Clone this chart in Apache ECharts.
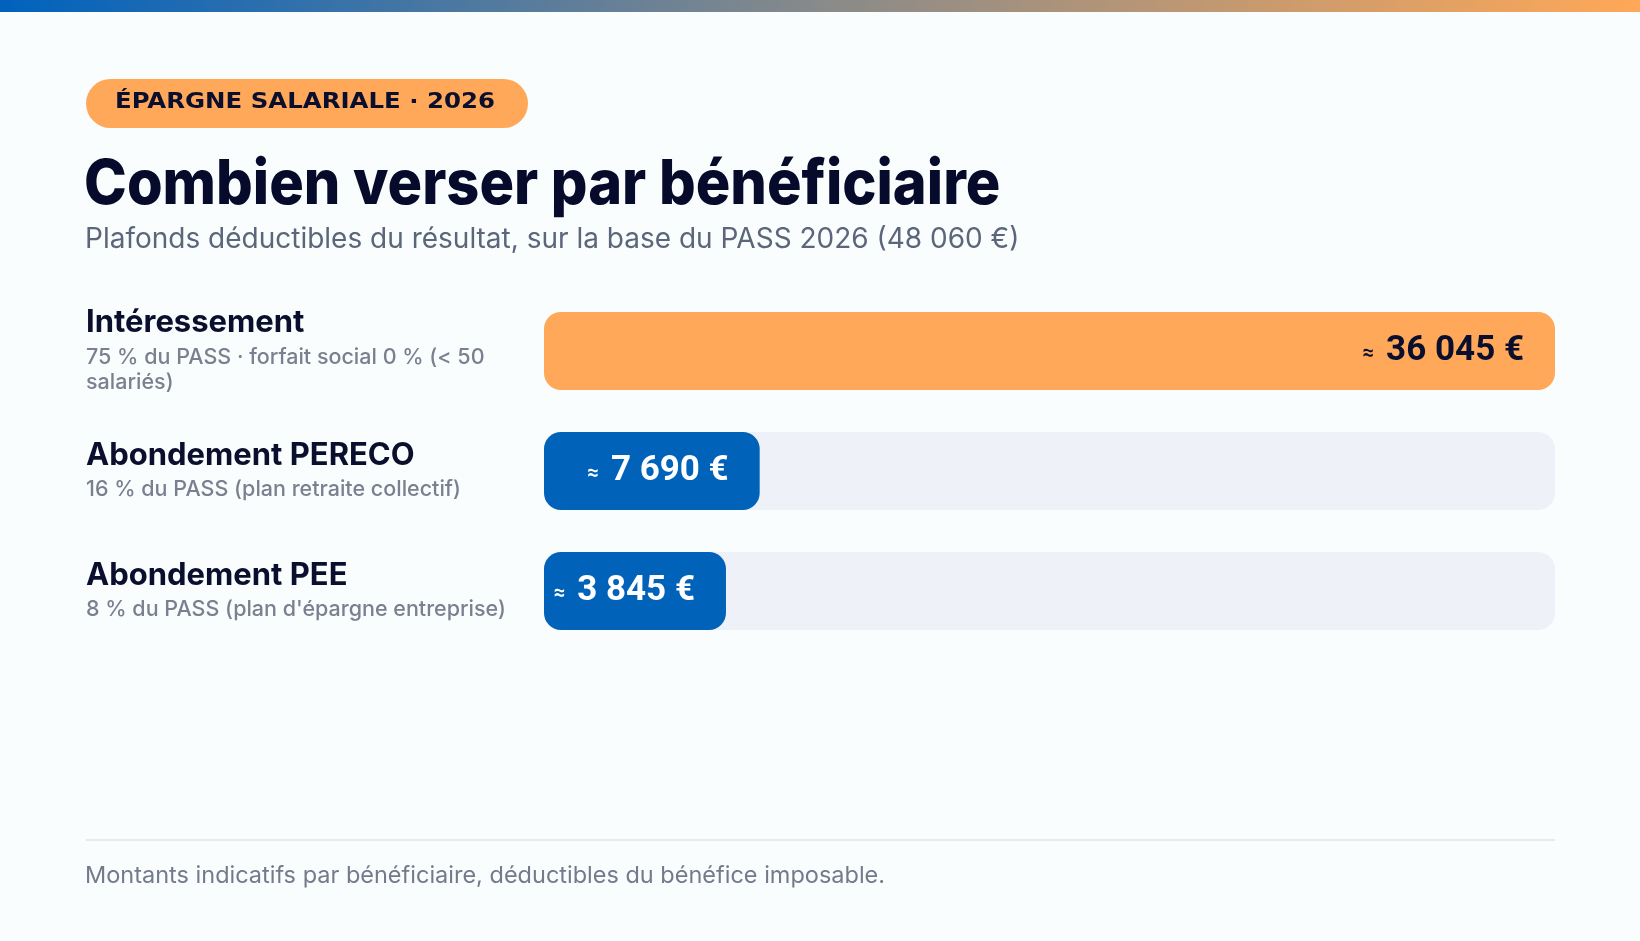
<!DOCTYPE html>
<html><head><meta charset="utf-8">
<script src="https://cdn.jsdelivr.net/npm/echarts@6/dist/echarts.min.js"></script>
<style>html,body{margin:0;padding:0;background:#FAFDFD;}#c{width:1640px;height:941px;}</style>
</head><body><div id="c"></div>
<script>
const categories = ['Intéressement', 'Abondement PERECO', 'Abondement PEE'];
const subtitles = ['75 % du PASS · forfait social 0 % (< 50\nsalariés)', '16 % du PASS (plan retraite collectif)', "8 % du PASS (plan d'épargne entreprise)"];
const values = [36045, 7690, 3845];
const barColors = ['#FFA85A', '#0062B8', '#0062B8'];
const labelColors = ['#0B0F2E', '#FFFFFF', '#FFFFFF'];
const badgeText = 'ÉPARGNE SALARIALE · 2026';
const titleText = 'Combien verser par bénéficiaire';
const subtitleText = 'Plafonds déductibles du résultat, sur la base du PASS 2026 (48 060 €)';
const footerText = 'Montants indicatifs par bénéficiaire, déductibles du bénéfice imposable.';

const maxV = Math.max(...values);
const MIN_SHARE = 0.18; // minimum visible bar length so the label fits
function fmt(v){ return String(v).replace(/\B(?=(\d{3})+(?!\d))/g, ' '); }

const chart = echarts.init(document.getElementById('c'), null, {renderer:'canvas'});
const barData = values.map((v,i)=>({
  value: Math.max(v, MIN_SHARE*maxV),
  realValue: v,
  itemStyle: {color: barColors[i]},
  label: {rich: {
    a:{color: labelColors[i], fontSize:20, fontWeight:700, fontFamily:'Roboto', padding:[5,12,0,0]},
    b:{color: labelColors[i], fontSize:35, fontWeight:700, fontFamily:'Roboto'}
  }}
}));

chart.setOption({
  backgroundColor: '#FAFDFD',
  animation: false,
  grid: {left: 544, right: 85, top: 291, height: 360},
  xAxis: {type:'value', min:0, max:maxV, show:false},
  yAxis: {
    type:'category', data: categories, inverse:true,
    axisLine:{show:false}, axisTick:{show:false},
    axisLabel:{
      align:'left', margin: 458, padding:[0,0,6,0],
      formatter: (name, idx) => {
        const s = subtitles[idx].split('\n').map(l=>'{s|'+l+'}').join('\n');
        return '{t|'+name+'}\n'+s;
      },
      rich:{
        t:{fontFamily:'Inter', fontWeight:700, fontSize:31, color:'#0B0F2E', lineHeight:44},
        s:{fontFamily:'Inter', fontWeight:500, fontSize:21.5, color:'#7B8090', lineHeight:25}
      }
    }
  },
  series: [{
    type:'bar', data: barData, barWidth: 78,
    showBackground:true,
    backgroundStyle:{color:'#EEF1F7', borderRadius:17},
    itemStyle:{borderRadius:17},
    label:{
      show:true, position:'insideRight', distance: 31,
      formatter: p => '{a|≈}{b|' + fmt(p.data.realValue) + ' €}'
    }
  }],
  graphic: [
    {type:'rect', left:0, top:0, shape:{width:1640, height:12},
     style:{fill:new echarts.graphic.LinearGradient(0,0,1,0,[{offset:0,color:'#0062BE'},{offset:0.5,color:'#888A8A'},{offset:1,color:'#FFA857'}])}},
    {type:'rect', left:86, top:79, shape:{width:442, height:49, r:24.5}, style:{fill:'#FFA85A'}},
    {type:'text', x:115, y:91, scaleX:1.11, style:{text:badgeText, fontFamily:'DejaVu Sans', fontWeight:700, fontSize:22, fill:'#0B0F2E'}},
    {type:'text', x:84, y:154, scaleX:0.93, style:{text:titleText, fontFamily:'Inter', fontWeight:800, fontSize:62, fill:'#070B2B'}},
    {type:'text', left:85, top:226, style:{text:subtitleText, fontFamily:'Inter', fontWeight:400, fontSize:28, fill:'#5C667A'}},
    {type:'rect', left:86, top:839, shape:{width:1469, height:2}, style:{fill:'#E6E9ED'}},
    {type:'text', left:85, top:864, style:{text:footerText, fontFamily:'Inter', fontWeight:400, fontSize:23.5, fill:'#737A8C'}}
  ]
});
</script></body></html>
